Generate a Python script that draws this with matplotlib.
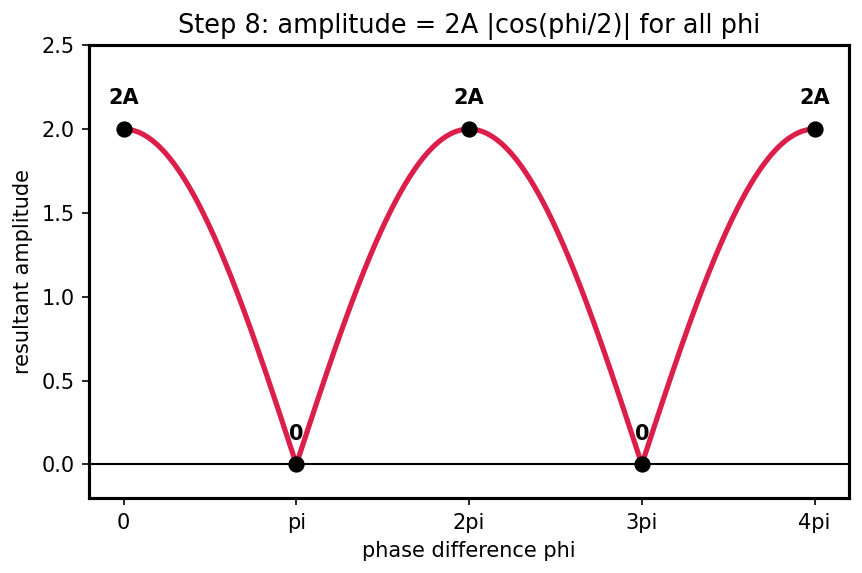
import numpy as np
import matplotlib.pyplot as plt

# amplitude 2A|cos(phi/2)| with A = 1 (curve given by the title)
A = 1.0
phi = np.linspace(0, 4 * np.pi, 800)
amp = 2 * A * np.abs(np.cos(phi / 2))

# marked points
mark_x = [0, np.pi, 2 * np.pi, 3 * np.pi, 4 * np.pi]
mark_y = [2.0, 0.0, 2.0, 0.0, 2.0]
mark_labels = ['2A', '0', '2A', '0', '2A']

tick_pos = [0, np.pi, 2 * np.pi, 3 * np.pi, 4 * np.pi]
tick_labels = ['0', 'pi', '2pi', '3pi', '4pi']

fig, ax = plt.subplots(figsize=(5.747, 3.82), dpi=150)
fig.subplots_adjust(left=0.1033, right=0.985, top=0.921, bottom=0.131)

ax.axhline(0, color='black', lw=1.0)
ax.plot(phi, amp, color='#dc1e4a', lw=2.5)
ax.plot(mark_x, mark_y, 'o', color='black', ms=6.8, zorder=3)

for x, y, lab in zip(mark_x, mark_y, mark_labels):
    ax.annotate(lab, (x, y), xytext=(0, 10), textcoords='offset points',
                ha='center', va='bottom', fontweight='bold', fontsize=10)

ax.set_xticks(tick_pos)
ax.set_xticklabels(tick_labels)
ax.set_ylim(-0.2, 2.5)
ax.set_xlabel('phase difference phi')
ax.set_ylabel('resultant amplitude')
ax.set_title('Step 8: amplitude = 2A |cos(phi/2)| for all phi', fontsize=12.3)

for s in ax.spines.values():
    s.set_linewidth(1.5)

fig.savefig('out.png')
